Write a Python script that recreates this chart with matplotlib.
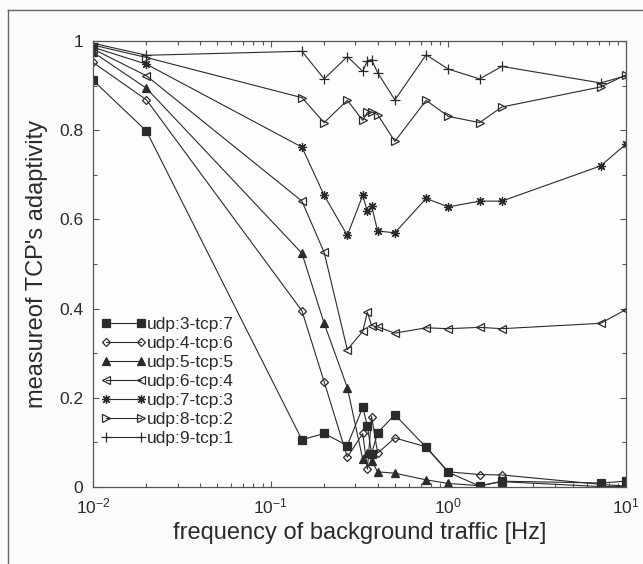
import matplotlib
matplotlib.use("Agg")
import math
import matplotlib.pyplot as plt
from matplotlib.ticker import FixedLocator, MultipleLocator, FuncFormatter, LogLocator, NullFormatter
from matplotlib.lines import Line2D

plt.rcParams['font.family'] = ['Liberation Sans', 'DejaVu Sans']
plt.rcParams['mathtext.fontset'] = 'custom'
plt.rcParams['mathtext.rm'] = 'Liberation Sans'
plt.rcParams['mathtext.it'] = 'Liberation Sans'

# frequency of background traffic [Hz]
freq = [0.01, 0.02, 0.15, 0.2, 0.27, 0.33, 0.35, 0.37, 0.4, 0.5, 0.75, 1.0, 1.5, 2.0, 7.2, 10.0]

udp3_tcp7 = [0.912, 0.798, 0.106, 0.120, 0.093, 0.179, 0.137, 0.075, 0.122, 0.162, 0.089, 0.033, 0.002, 0.013, 0.009, 0.013]
udp4_tcp6 = [0.952, 0.868, 0.395, 0.236, 0.067, 0.120, 0.040, 0.158, 0.076, 0.110, 0.090, 0.034, 0.028, 0.027, 0.006, 0.002]
udp5_tcp5 = [0.975, 0.894, 0.524, 0.367, 0.223, 0.062, 0.076, 0.059, 0.034, 0.031, 0.016, 0.008, 0.003, 0.012, 0.001, 0.001]
udp6_tcp4 = [0.982, 0.922, 0.641, 0.526, 0.308, 0.349, 0.392, 0.362, 0.359, 0.345, 0.357, 0.355, 0.358, 0.355, 0.367, 0.398]
udp7_tcp3 = [0.986, 0.948, 0.762, 0.654, 0.564, 0.654, 0.618, 0.630, 0.574, 0.570, 0.647, 0.628, 0.641, 0.641, 0.720, 0.769]
udp8_tcp2 = [0.991, 0.963, 0.873, 0.817, 0.867, 0.822, 0.840, 0.841, 0.835, 0.775, 0.867, 0.831, 0.817, 0.852, 0.897, 0.924]
udp9_tcp1 = [0.995, 0.968, 0.977, 0.915, 0.965, 0.932, 0.956, 0.958, 0.929, 0.868, 0.969, 0.937, 0.915, 0.943, 0.906, 0.922]

labels = ['udp:3-tcp:7', 'udp:4-tcp:6', 'udp:5-tcp:5', 'udp:6-tcp:4',
          'udp:7-tcp:3', 'udp:8-tcp:2', 'udp:9-tcp:1']
series = [udp3_tcp7, udp4_tcp6, udp5_tcp5, udp6_tcp4, udp7_tcp3, udp8_tcp2, udp9_tcp1]
# matlab style markers, (8,2,0) is the asterisk
markers = ['s', 'D', '^', '<', (8, 2, 0), '>', '+']
filled = [True, False, True, False, True, False, False]
msizes = [5.5, 4, 6, 6, 6.5, 6, 7]

ink = '#2b2b2b'

fig = plt.figure(figsize=(6.43, 5.64), dpi=100)
fig.patch.set_facecolor('#fbfbfa')
ax = fig.add_axes([0.1446, 0.1365, 0.829, 0.7908])
ax.set_facecolor('#fdfdfc')

for vals, lab, m, f, ms in zip(series, labels, markers, filled, msizes):
    ax.plot(freq, vals, color=ink, lw=0.8, marker=m, markersize=ms,
            markerfacecolor=ink if f else 'none', markeredgecolor=ink,
            markeredgewidth=0.9, label=lab)

ax.set_xscale('log')
ax.set_xlim(0.01, 10)
ax.set_ylim(0, 1)

ax.xaxis.set_major_locator(FixedLocator([0.01, 0.1, 1, 10]))
ax.xaxis.set_major_formatter(FuncFormatter(lambda v, p: r'$10^{%d}$' % round(math.log10(v))))
ax.xaxis.set_minor_locator(LogLocator(base=10, subs=range(2, 10)))
ax.xaxis.set_minor_formatter(NullFormatter())
ax.yaxis.set_major_locator(MultipleLocator(0.2))
ax.yaxis.set_minor_locator(MultipleLocator(0.1))
ax.yaxis.set_major_formatter(FuncFormatter(lambda v, p: '%g' % round(v, 2)))

ax.tick_params(which='both', direction='in', top=True, right=True, colors='#555555',
               labelcolor='#2b2b2b', labelsize=12.5, width=0.8)
ax.tick_params(which='major', length=4.5, pad=7)
ax.tick_params(which='minor', length=3)
for sp in ax.spines.values():
    sp.set_color('#555555')
    sp.set_linewidth(0.9)

ax.set_xlabel('frequency of background traffic [Hz]', fontsize=17, color='#2b2b2b', labelpad=4)
ax.set_ylabel("measureof TCP's adaptivity", fontsize=17, color='#2b2b2b', labelpad=8)

leg = ax.legend(loc='upper left', bbox_to_anchor=(-0.005, 0.405), frameon=False,
                fontsize=12.5, numpoints=2, handlelength=2.6, handletextpad=0.05,
                labelspacing=0.22, borderaxespad=0.2)
for t in leg.get_texts():
    t.set_color('#2b2b2b')

# scanned page frame
fig.add_artist(Line2D([8 / 643, 8 / 643], [0, 1 - 10 / 564], color='#666666', lw=1.0))
fig.add_artist(Line2D([8 / 643, 1], [1 - 10 / 564, 1 - 10 / 564], color='#666666', lw=1.0))

fig.savefig('out.png', dpi=100, facecolor=fig.get_facecolor())
